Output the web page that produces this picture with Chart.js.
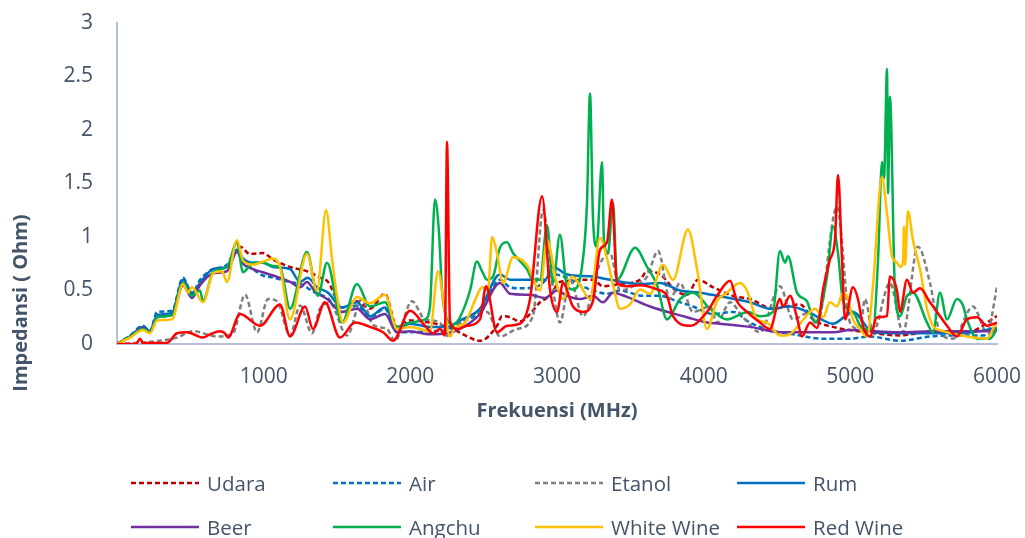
<!DOCTYPE html>
<html>
<head>
<meta charset="utf-8">
<script src="https://cdn.jsdelivr.net/npm/chart.js@4.4.1/dist/chart.umd.min.js"></script>
<style>
  html, body { margin: 0; padding: 0; background: #ffffff; }
  #wrap { position: relative; width: 1025px; height: 538px; overflow: hidden; }
  #chart { position: absolute; left: 0; top: 0; }
  #legend { position: absolute; left: 0; top: 0; width: 1025px; height: 538px; pointer-events: none; }
  .item { position: absolute; display: flex; align-items: center; height: 28px; font-family: "Open Sans", sans-serif; font-size: 20.5px; color: #44546A; white-space: nowrap; }
  .item svg { margin-right: 8px; }
</style>
</head>
<body>
<div id="wrap">
  <canvas id="chart" width="1025" height="538"></canvas>
  <div id="legend"></div>
</div>
<script>
// Impedance (Ohm) against frequency (MHz) for each liquid, as [MHz, Ohm] pairs
const udara = [[0,0],[89,0.07],[177,0.16],[225,0.11],[273,0.27],[375,0.29],[450,0.6],[511,0.45],[566,0.57],[655,0.7],[750,0.72],[839,0.91],[907,0.84],[995,0.85],[1064,0.79],[1180,0.72],[1295,0.68],[1384,0.62],[1439,0.58],[1534,0.34],[1636,0.4],[1725,0.33],[1827,0.47],[1909,0.16],[1998,0.22],[2134,0.2],[2291,0.14],[2359,0.09],[2475,0.03],[2591,0.17],[2625,0.26],[2680,0.25],[2748,0.21],[2816,0.28],[2884,0.39],[2952,0.45],[3020,0.58],[3245,0.6],[3314,0.54],[3430,0.56],[3566,0.6],[3614,0.68],[3702,0.65],[3818,0.49],[3886,0.46],[3961,0.6],[4064,0.53],[4200,0.45],[4316,0.42],[4473,0.33],[4657,0.37],[4745,0.23],[4882,0.16],[5114,0.11],[5339,0.08],[5564,0.12],[5795,0.11],[6000,0.26]];

const air = [[0,0],[89,0.08],[177,0.17],[225,0.12],[273,0.3],[375,0.31],[450,0.62],[511,0.47],[566,0.6],[655,0.7],[750,0.74],[818,0.88],[859,0.78],[927,0.7],[995,0.64],[1064,0.62],[1180,0.58],[1268,0.55],[1336,0.49],[1432,0.43],[1534,0.3],[1636,0.36],[1725,0.25],[1827,0.33],[1909,0.11],[1998,0.11],[2134,0.12],[2250,0.13],[2338,0.2],[2475,0.3],[2611,0.6],[2680,0.53],[2748,0.52],[2884,0.55],[2973,0.65],[3068,0.62],[3157,0.55],[3245,0.5],[3341,0.47],[3430,0.5],[3586,0.45],[3702,0.45],[3818,0.4],[3927,0.35],[4064,0.28],[4200,0.3],[4316,0.2],[4452,0.13],[4657,0.08],[4793,0.05],[4998,0.05],[5134,0.07],[5339,0.03],[5543,0.07],[5748,0.08],[5905,0.08],[6000,0.13]];

const etanol = [[0,0],[225,0.02],[409,0.06],[518,0.12],[682,0.07],[791,0.1],[873,0.46],[955,0.11],[1030,0.42],[1091,0.4],[1180,0.08],[1248,0.36],[1330,0.1],[1384,0.33],[1452,0.38],[1568,0.08],[1670,0.42],[1745,0.18],[1841,0.14],[1895,0.03],[2011,0.4],[2100,0.23],[2202,0.2],[2236,0.07],[2338,0.2],[2523,0.3],[2611,0.07],[2727,0.14],[2836,0.26],[2904,1.25],[2973,0.51],[3020,0.2],[3089,0.6],[3177,0.26],[3293,0.75],[3361,0.85],[3430,0.5],[3518,0.54],[3614,0.63],[3689,0.87],[3770,0.42],[3839,0.57],[3927,0.3],[4043,0.35],[4091,0.2],[4180,0.39],[4268,0.25],[4384,0.11],[4520,0.54],[4609,0.23],[4725,0.3],[4773,0.18],[4909,1.28],[4998,0.2],[5066,0.14],[5100,0.42],[5154,0.11],[5270,0.57],[5359,0.11],[5461,0.91],[5543,0.57],[5611,0.11],[5700,0.05],[5836,0.35],[5932,0.11],[6000,0.53]];

const rum = [[0,0],[89,0.07],[177,0.16],[225,0.12],[273,0.27],[375,0.29],[450,0.6],[511,0.48],[566,0.57],[655,0.7],[750,0.72],[818,0.88],[859,0.8],[927,0.76],[995,0.76],[1064,0.72],[1180,0.7],[1248,0.58],[1300,0.62],[1364,0.53],[1439,0.48],[1534,0.34],[1636,0.39],[1725,0.26],[1827,0.34],[1909,0.14],[1998,0.19],[2134,0.16],[2250,0.16],[2338,0.22],[2475,0.33],[2611,0.65],[2680,0.6],[2795,0.6],[2918,0.6],[2973,0.72],[3068,0.65],[3245,0.63],[3361,0.6],[3566,0.56],[3702,0.57],[3839,0.5],[3975,0.48],[4091,0.45],[4316,0.39],[4452,0.33],[4589,0.35],[4725,0.29],[4882,0.19],[5018,0.3],[5154,0.11],[5339,0.1],[5543,0.1],[5748,0.1],[6000,0.15]];

const beer = [[0,0],[89,0.07],[177,0.15],[225,0.11],[273,0.25],[375,0.27],[450,0.55],[511,0.43],[566,0.55],[655,0.66],[750,0.68],[818,0.86],[859,0.75],[927,0.7],[995,0.67],[1064,0.64],[1180,0.58],[1248,0.53],[1295,0.58],[1350,0.49],[1432,0.42],[1534,0.3],[1636,0.33],[1725,0.23],[1827,0.28],[1909,0.11],[1998,0.12],[2134,0.09],[2250,0.1],[2338,0.14],[2475,0.28],[2611,0.57],[2680,0.47],[2816,0.46],[2918,0.43],[3000,0.5],[3068,0.45],[3157,0.42],[3245,0.45],[3314,0.39],[3382,0.48],[3477,0.44],[3634,0.35],[3886,0.25],[4023,0.2],[4111,0.19],[4316,0.16],[4520,0.11],[4725,0.11],[4882,0.11],[4998,0.13],[5339,0.11],[5564,0.12],[5973,0.12],[6000,0.14]];

const angchu = [[0,0],[89,0.07],[177,0.14],[225,0.11],[273,0.25],[375,0.27],[450,0.57],[511,0.45],[566,0.5],[586,0.4],[655,0.67],[750,0.72],[818,0.95],[859,0.67],[927,0.76],[995,0.76],[1064,0.73],[1111,0.72],[1180,0.33],[1295,0.86],[1370,0.45],[1432,0.76],[1534,0.2],[1636,0.56],[1725,0.35],[1827,0.39],[1909,0.16],[1998,0.2],[2100,0.23],[2134,0.35],[2168,1.35],[2195,1.05],[2216,0.5],[2250,0.23],[2291,0.18],[2338,0.25],[2407,0.5],[2454,0.77],[2489,0.68],[2523,0.6],[2564,0.63],[2611,0.9],[2659,0.95],[2700,0.85],[2795,0.7],[2836,0.6],[2884,0.6],[2932,1.11],[2973,0.57],[3020,1.02],[3068,0.54],[3109,0.51],[3170,0.72],[3204,1.3],[3225,2.34],[3245,1.19],[3270,0.91],[3307,1.7],[3320,0.97],[3348,0.85],[3382,1.32],[3409,0.6],[3532,0.9],[3614,0.72],[3682,0.55],[3750,0.23],[3839,0.42],[3927,0.48],[4043,0.33],[4159,0.23],[4302,0.3],[4384,0.26],[4473,0.3],[4520,0.87],[4555,0.76],[4575,0.82],[4636,0.48],[4704,0.4],[4759,0.2],[4841,0.63],[4882,1.1],[4916,0.85],[4950,0.4],[5018,0.3],[5086,0.14],[5154,0.14],[5189,0.79],[5216,1.7],[5230,1.55],[5250,2.57],[5257,1.41],[5270,2.31],[5304,0.51],[5339,0.26],[5386,0.45],[5427,0.48],[5523,0.2],[5564,0.11],[5611,0.48],[5659,0.23],[5727,0.42],[5768,0.36],[5795,0.23],[5864,0.05],[5952,0.05],[6000,0.14]];

const whiteWine = [[0,0],[89,0.06],[177,0.13],[225,0.1],[273,0.22],[375,0.23],[450,0.56],[484,0.48],[511,0.53],[586,0.39],[655,0.66],[716,0.68],[750,0.58],[818,0.97],[859,0.78],[927,0.74],[995,0.77],[1064,0.8],[1111,0.72],[1180,0.23],[1295,0.84],[1364,0.5],[1425,1.25],[1466,0.8],[1500,0.45],[1541,0.2],[1636,0.44],[1725,0.38],[1827,0.46],[1909,0.14],[1998,0.16],[2134,0.12],[2189,0.68],[2236,0.3],[2270,0.07],[2304,0.15],[2373,0.2],[2454,0.45],[2489,0.53],[2530,0.5],[2557,1.0],[2591,0.85],[2632,0.57],[2700,0.81],[2795,0.74],[2884,0.5],[2932,0.97],[3000,0.55],[3041,0.42],[3102,0.63],[3157,0.55],[3225,0.42],[3293,0.99],[3341,0.8],[3382,0.55],[3430,0.33],[3498,0.37],[3566,0.51],[3634,0.47],[3723,0.74],[3791,0.6],[3893,1.07],[3955,0.7],[4023,0.14],[4091,0.4],[4159,0.48],[4248,0.57],[4295,0.5],[4364,0.23],[4432,0.2],[4520,0.08],[4568,0.08],[4657,0.19],[4725,0.3],[4759,0.33],[4814,0.25],[4861,0.39],[4909,0.35],[4950,0.48],[4984,0.42],[5018,0.23],[5066,0.14],[5114,0.07],[5154,0.54],[5216,1.56],[5250,1.22],[5284,0.82],[5318,0.76],[5339,0.72],[5359,0.76],[5366,1.1],[5373,0.74],[5393,1.24],[5427,0.97],[5475,0.7],[5523,0.33],[5564,0.17],[5632,0.12],[5795,0.07],[5932,0.05],[5973,0.14],[6000,0.2]];

const redWine = [[0,0],[109,0],[136,0.01],[157,0.05],[177,0.01],[341,0.01],[409,0.1],[477,0.11],[586,0.06],[634,0.09],[702,0.12],[736,0.1],[757,0.06],[839,0.28],[975,0.17],[1111,0.37],[1180,0.07],[1282,0.35],[1336,0.14],[1418,0.39],[1520,0.06],[1623,0.2],[1725,0.16],[1814,0.11],[1882,0.03],[1998,0.31],[2100,0.17],[2154,0.1],[2202,0.14],[2236,0.08],[2250,1.89],[2270,0.22],[2318,0.14],[2386,0.17],[2475,0.23],[2516,0.54],[2591,0.11],[2659,0.17],[2748,0.19],[2816,0.42],[2898,1.38],[2952,0.51],[3000,0.3],[3041,0.57],[3109,0.35],[3177,0.3],[3245,0.4],[3293,0.88],[3341,0.95],[3375,1.35],[3409,0.57],[3477,0.54],[3566,0.55],[3682,0.51],[3750,0.45],[3791,0.26],[3907,0.17],[4023,0.3],[4091,0.45],[4180,0.59],[4227,0.4],[4295,0.3],[4384,0.2],[4452,0.14],[4520,0.42],[4541,0.35],[4589,0.45],[4636,0.25],[4670,0.07],[4725,0.2],[4773,0.15],[4814,0.51],[4861,0.79],[4895,0.97],[4916,1.58],[4943,0.8],[4964,0.23],[5018,0.53],[5052,0.42],[5086,0.17],[5134,0.07],[5182,0.25],[5250,0.26],[5270,0.63],[5318,0.5],[5339,0.3],[5386,0.6],[5427,0.48],[5475,0.52],[5543,0.39],[5591,0.3],[5659,0.17],[5727,0.07],[5795,0.23],[5864,0.25],[5932,0.17],[6000,0.2]];

const seriesNames = ['Udara', 'Air', 'Etanol', 'Rum', 'Beer', 'Angchu', 'White Wine', 'Red Wine'];
const seriesData = [udara, air, etanol, rum, beer, angchu, whiteWine, redWine];
const xTickValues = [1000, 2000, 3000, 4000, 5000, 6000];
const yTickValues = [0, 0.5, 1, 1.5, 2, 2.5, 3];
const xTitle = 'Frekuensi (MHz)';
const yTitle = 'Impedansi ( Ohm)';

// Line styles per series
const lineColors = ['#C00000', '#0070C0', '#7F7F7F', '#0070C0', '#7030A0', '#00B050', '#FFC000', '#FF0000'];
const lineDashes = [[5, 3], [5, 3], [5, 3], [], [], [], [], []];

const textColor = '#44546A';
const axisColor = '#B4C1D5';

const datasets = seriesNames.map((name, i) => ({
  label: name,
  data: seriesData[i].map(([f, z]) => ({ x: f, y: z })),
  borderColor: lineColors[i],
  backgroundColor: lineColors[i],
  borderDash: lineDashes[i],
  borderWidth: 2.5,
  pointRadius: 0,
  tension: 0.4,
  cubicInterpolationMode: 'monotone',
  fill: false,
  order: seriesNames.length - i
}));

// Vertical axis title, set low beside the value axis
const yTitlePlugin = {
  id: 'yTitle',
  afterDraw(c) {
    const ctx = c.ctx;
    ctx.save();
    ctx.translate(21, 303);
    ctx.rotate(-Math.PI / 2);
    ctx.font = 'bold 20px "Open Sans"';
    ctx.fillStyle = textColor;
    ctx.textAlign = 'center';
    ctx.textBaseline = 'middle';
    ctx.fillText(yTitle, 0, 0);
    ctx.restore();
  }
};

const chart = new Chart(document.getElementById('chart'), {
  type: 'line',
  data: { datasets },
  plugins: [yTitlePlugin],
  options: {
    responsive: false,
    animation: false,
    layout: { padding: { top: 23, right: 28, bottom: 94, left: 0 } },
    plugins: { legend: { display: false }, tooltip: { enabled: false } },
    scales: {
      x: {
        type: 'linear',
        min: 0,
        max: 6000,
        afterFit: s => { s.height = 100; s.paddingLeft = 0; s.paddingRight = 0; },
        afterBuildTicks: s => { s.ticks = [0, ...xTickValues].map(v => ({ value: v })); },
        grid: { display: false, drawTicks: false },
        border: { display: true, color: axisColor, width: 2 },
        ticks: {
          padding: 20,
          color: textColor,
          font: { family: 'Open Sans', size: 21 },
          maxRotation: 0,
          autoSkip: false,
          callback: v => (v === 0 ? '' : String(v))
        },
        title: {
          display: true,
          text: xTitle,
          color: textColor,
          font: { family: 'Open Sans', size: 20, weight: 'bold' },
          padding: { top: 0, bottom: 21 }
        }
      },
      y: {
        min: 0,
        max: 3,
        afterFit: s => { s.width = 117; s.paddingTop = 0; s.paddingBottom = 0; },
        afterBuildTicks: s => { s.ticks = yTickValues.map(v => ({ value: v })); },
        grid: { display: false, drawTicks: false },
        border: { display: true, color: axisColor, width: 2 },
        ticks: {
          padding: 24,
          color: textColor,
          font: { family: 'Open Sans', size: 21 },
          callback: v => String(v)
        },
        title: { display: false }
      }
    }
  }
});

// Legend laid out in two rows of four, built from the chart's datasets
const legendEl = document.getElementById('legend');
chart.data.datasets.forEach((ds, i) => {
  const col = i % 4;
  const row = Math.floor(i / 4);
  const item = document.createElement('div');
  item.className = 'item';
  item.style.left = (131 + col * 202) + 'px';
  item.style.top = (469 + row * 44) + 'px';
  const svgNS = 'http://www.w3.org/2000/svg';
  const svg = document.createElementNS(svgNS, 'svg');
  svg.setAttribute('width', '68');
  svg.setAttribute('height', '6');
  const ln = document.createElementNS(svgNS, 'line');
  ln.setAttribute('x1', '0'); ln.setAttribute('y1', '3');
  ln.setAttribute('x2', '68'); ln.setAttribute('y2', '3');
  ln.setAttribute('stroke', ds.borderColor);
  ln.setAttribute('stroke-width', '2.5');
  if (ds.borderDash.length) ln.setAttribute('stroke-dasharray', ds.borderDash.join(' '));
  svg.appendChild(ln);
  item.appendChild(svg);
  const label = document.createElement('span');
  label.textContent = ds.label;
  item.appendChild(label);
  legendEl.appendChild(item);
});
</script>
</body>
</html>
